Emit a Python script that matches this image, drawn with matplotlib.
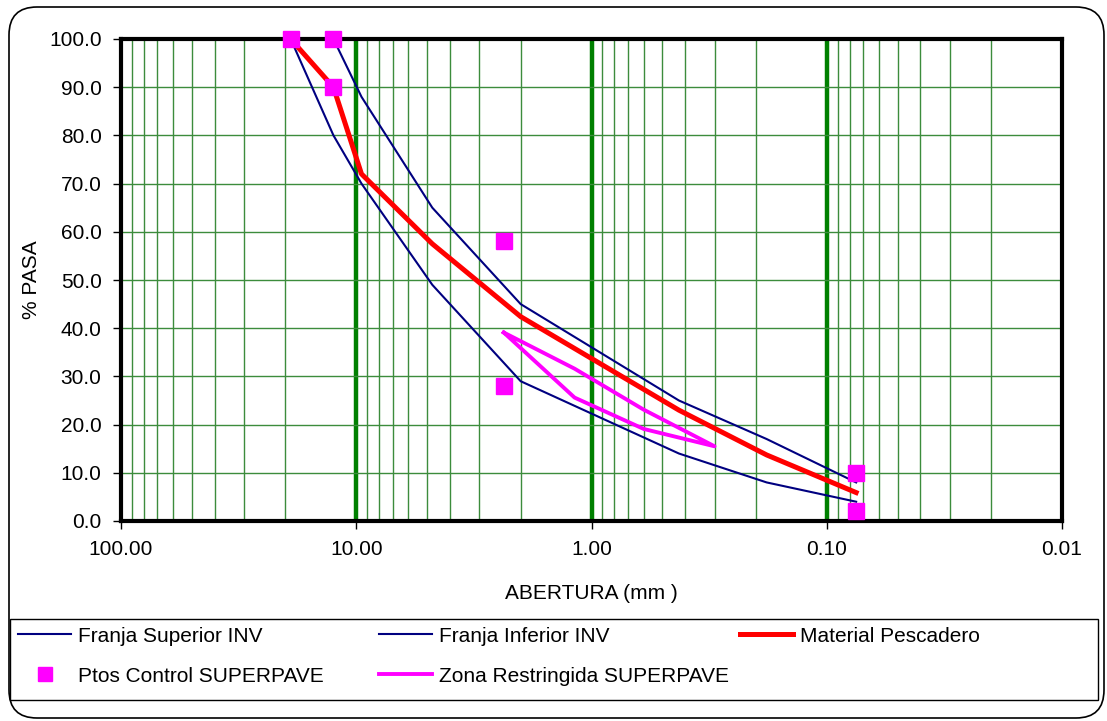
import numpy as np
import matplotlib
matplotlib.use("Agg")
import matplotlib.pyplot as plt
from matplotlib.ticker import LogLocator, NullFormatter, FixedLocator
from matplotlib.patches import FancyBboxPatch, Rectangle

plt.rcParams['font.family'] = ['Liberation Sans', 'DejaVu Sans']

# gradation bands (INV) and the material, % passing per sieve (mm)
sieves_inv = [19.0, 12.5, 9.5, 4.75, 2.0, 0.425, 0.18, 0.075]
franja_sup = [100, 100, 88, 65, 45, 25, 17, 8]
franja_inf = [100, 80, 70, 49, 29, 14, 8, 4]
material = [100, 90, 72, 57.5, 42.4, 23, 13.7, 5.9]

# SUPERPAVE control points
ctrl_x = [19.0, 12.5, 12.5, 2.36, 2.36, 0.075, 0.075]
ctrl_y = [100, 100, 90, 58, 28, 10, 2]

# SUPERPAVE restricted zone outline
zona_x = [2.36, 1.18, 0.6, 0.3, 0.6, 1.18, 2.36]
zona_y = [39.1, 31.6, 23.1, 15.5, 19.1, 25.6, 39.1]

x_ticks = [100, 10, 1, 0.1, 0.01]
x_labels = ['100.00', '10.00', '1.00', '0.10', '0.01']
y_ticks = list(range(0, 101, 10))

navy = '#000080'
red = '#FF0000'
pink = '#FF00FF'
grid_green = '#3C8C3C'
dark_green = '#008000'

W, H = 1107, 721
fig = plt.figure(figsize=(W / 100, H / 100), dpi=100)

# outer rounded frame and legend box
frame = FancyBboxPatch((0.09, 0.03), 10.95, 7.11, boxstyle="round,pad=0,rounding_size=0.28",
                       transform=fig.dpi_scale_trans, facecolor='none', edgecolor='black',
                       linewidth=1.2, zorder=-1)
fig.patches.append(frame)
legbox = Rectangle((10 / W, (H - 700) / H), 1088 / W, 81 / H, transform=fig.transFigure,
                   facecolor='none', edgecolor='black', linewidth=1.0, zorder=-1)
fig.patches.append(legbox)

ax = fig.add_axes([121 / W, (H - 521) / H, 941 / W, 482 / H])
ax.set_facecolor('white')

ax.set_xscale('log')
ax.set_xlim(100, 0.01)
ax.set_ylim(0, 100)

ax.xaxis.set_major_locator(FixedLocator(x_ticks))
ax.set_xticklabels(x_labels)
ax.xaxis.set_minor_locator(LogLocator(base=10, subs=np.arange(2, 10)))
ax.xaxis.set_minor_formatter(NullFormatter())
ax.set_yticks(y_ticks)
ax.set_yticklabels(['%.1f' % v for v in y_ticks])

ax.tick_params(axis='both', which='major', direction='out', length=6, width=1,
               labelsize=15, pad=8)
ax.tick_params(axis='x', which='minor', length=0)

ax.grid(which='minor', axis='x', color=grid_green, linewidth=1.0)
ax.grid(which='major', axis='y', color=grid_green, linewidth=1.0)
for xv in x_ticks[1:-1]:
    ax.axvline(xv, color=dark_green, linewidth=3.2, zorder=1.5)

for s in ax.spines.values():
    s.set_linewidth(3)
    s.set_zorder(3)

l_sup, = ax.plot(sieves_inv, franja_sup, color=navy, linewidth=1.5, zorder=2)
l_inf, = ax.plot(sieves_inv, franja_inf, color=navy, linewidth=1.5, zorder=2)
l_mat, = ax.plot(sieves_inv, material, color=red, linewidth=3.6, zorder=2.2)
l_ctrl, = ax.plot(ctrl_x, ctrl_y, linestyle='none', marker='s', markersize=11,
                  color=pink, markeredgecolor=pink, zorder=4, clip_on=False)
l_zona, = ax.plot(zona_x, zona_y, color=pink, linewidth=2.8, zorder=2.4)

ax.set_xlabel('ABERTURA (mm )', fontsize=15, labelpad=18)
ax.set_ylabel('% PASA', fontsize=15, labelpad=6)

# legend entries laid out on a 3-column grid inside the box
entries = [
    (l_sup, 'Franja Superior INV', 18, 636),
    (l_inf, 'Franja Inferior INV', 379, 636),
    (l_mat, 'Material Pescadero', 740, 636),
    (l_ctrl, 'Ptos Control SUPERPAVE', 18, 676),
    (l_zona, 'Zona Restringida SUPERPAVE', 379, 676),
]
for h, lab, px, py in entries:
    fig.legend([h], [lab], loc='center left', bbox_to_anchor=(px / W, (H - py) / H),
               frameon=False, borderpad=0, borderaxespad=0, handlelength=2.55,
               handletextpad=0.34, fontsize=15, markerscale=0.9)

fig.savefig('out.png', dpi=100)
